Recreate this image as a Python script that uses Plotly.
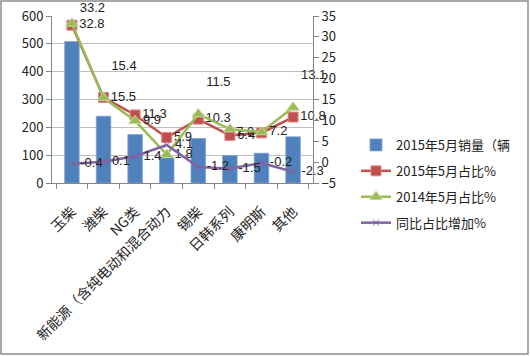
import plotly.graph_objects as go

categories = ["玉柴", "潍柴", "NG类", "新能源（含纯电动和混合动力", "锡柴", "日韩系列", "康明斯", "其他"]
sales_2015 = [508, 240, 174, 90, 160, 99, 107, 166]
share_2015 = [32.8, 15.5, 11.3, 5.9, 10.3, 6.4, 7.0, 10.8]
share_2014 = [33.2, 15.4, 9.9, 1.8, 11.5, 7.9, 7.2, 13.1]
share_change = [-0.4, 0.1, 1.4, 4.1, -1.2, -1.5, -0.2, -2.3]

names = ["2015年5月销量（辆", "2015年5月占比%", "2014年5月占比%", "同比占比增加%"]

W, H = 530, 356
L, R, T, B = 52, 217, 16, 173
pw, ph = W - L - R, H - T - B

font = "Noto Sans CJK SC, Noto Sans, sans-serif"
lbl_font = dict(size=13, color="#222", family="Liberation Sans, Arial")
NB = "\u00a0"

# label placement per point
red_pos = ["middle right"] * 8
red_pos[6] = "middle left"
green_pos = ["top right", "top right", "middle right", "middle right",
             "top right", "top right", "middle right", "top right"]
green_lift = [False, True, False, False, True, False, False, True]
green_text = []
for i, v in enumerate(share_2014):
    if i == 5:
        green_text.append("")
    elif green_lift[i]:
        green_text.append(f"{v:.1f}<br> ")
    else:
        green_text.append(f"{v:.1f}")

fig = go.Figure()
fig.add_trace(go.Bar(x=categories, y=sales_2015, name=names[0], legendgroup="a",
                     marker=dict(color="#4F81BD", line=dict(color="#7FA3D3", width=0.8)),
                     yaxis="y"))
fig.add_trace(go.Scatter(x=categories, y=share_2015, name=names[1], yaxis="y2", legendgroup="b",
                         mode="lines+markers+text", cliponaxis=False,
                         line=dict(color="#C0504D", width=2.5),
                         marker=dict(symbol="square", size=10, color="#C0504D",
                                     line=dict(color="#E08A88", width=1)),
                         text=[f"{v:.1f}" for v in share_2015],
                         textposition=red_pos, textfont=lbl_font))
fig.add_trace(go.Scatter(x=categories, y=share_2014, name=names[2], yaxis="y2", legendgroup="c",
                         mode="lines+markers+text", cliponaxis=False,
                         line=dict(color="#9BBB59", width=2.5),
                         marker=dict(symbol="triangle-up", size=11, color="#9BBB59",
                                     line=dict(color="#C3D69B", width=1)),
                         text=green_text, textposition=green_pos, textfont=lbl_font))
fig.add_trace(go.Scatter(x=categories, y=share_change, name=names[3], yaxis="y2", legendgroup="d",
                         mode="lines+markers+text", cliponaxis=False,
                         line=dict(color="#8064A2", width=2.5),
                         marker=dict(symbol="x-thin", size=6, color="#8064A2",
                                     line=dict(color="#8064A2", width=1)),
                         text=[f"{NB}{v:.1f}" for v in share_change],
                         textposition="middle right", textfont=lbl_font))

fig.update_layout(
    width=W, height=H,
    margin=dict(l=L, r=R, t=T, b=B, autoexpand=False),
    paper_bgcolor="white", plot_bgcolor="white",
    font=dict(family=font, size=13, color="#222"),
    bargap=0.54,
    showlegend=True,
    legend=dict(x=(356 - L) / pw, y=(183 - 130) / ph, xanchor="left", yanchor="top",
                font=dict(size=13, family=font), traceorder="grouped", tracegroupgap=6,
                bgcolor="rgba(0,0,0,0)", itemwidth=30),
    xaxis=dict(type="category", tickangle=-45, tickfont=dict(size=14), automargin=False,
               showline=True, linecolor="#868686", linewidth=1, ticklabelstandoff=14,
               ticks="outside", tickson="boundaries", ticklen=5, tickcolor="#868686",
               showgrid=False),
    yaxis=dict(range=[0, 600], dtick=100, showgrid=True, gridcolor="#BFBFBF", gridwidth=1,
               showline=True, linecolor="#868686", ticks="outside", ticklen=5, automargin=False,
               tickcolor="#868686", tickfont=dict(size=13), zeroline=False),
    yaxis2=dict(range=[-5, 35], dtick=5, overlaying="y", side="right", showgrid=False,
                showline=True, linecolor="#868686", ticks="outside", ticklen=5, automargin=False,
                tickcolor="#868686", tickfont=dict(size=13), zeroline=False),
    shapes=[dict(type="rect", xref="paper", yref="paper",
                 x0=-(L - 1) / pw, x1=1 + (R - 2) / pw,
                 y0=-(B - 2) / ph, y1=1 + (T - 1) / ph,
                 line=dict(color="#8C8C8C", width=1.5), layer="below")],
)

fig.write_html("out.html", config={"displayModeBar": False},
               post_script="document.body.style.margin='0';document.body.style.padding='0';")
